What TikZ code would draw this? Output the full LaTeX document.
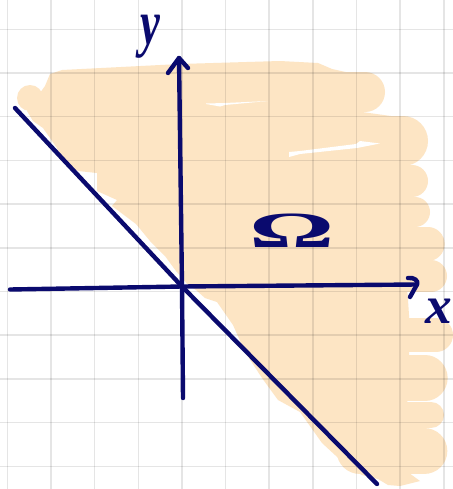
\documentclass[tikz,border=0pt]{standalone}
\usepackage{fontspec}
\newfontfamily\handfont{Liberation Serif}
\definecolor{navy}{HTML}{0A0A6E}
\definecolor{peach}{HTML}{FDE5C4}
\tikzset{
  gridline/.style={black, opacity=0.1, line width=1.1pt},
  axisline/.style={navy, line width=3.3pt, line cap=round, line join=round},
  lobe/.style={peach, line cap=round},
  streak/.style={fill=white},
  handlabel/.style={text=navy, inner sep=0pt}
}
\begin{document}
\begin{tikzpicture}[x=0.75pt,y=-0.75pt]
\useasboundingbox (0,0) rectangle (453,489);
\fill[white] (0,0) rectangle (453,489);
% shaded region (marker strokes)
\fill[peach] (45,86) -- (50,74) -- (62,70) -- (180,64) -- (280,61) -- (318,63) -- (332,69) -- (350,73) -- (362,74) -- (362,112) -- (398,117) -- (400,200) -- (408,300) -- (410,330) -- (405,470) -- (420,481) -- (400,486) -- (388,485) -- (378,479) -- (362,475) -- (348,467) -- (322,443) -- (300,412) -- (278,400) -- (262,378) -- (245,352) -- (233,325) -- (217,302) -- (205,298) -- (196,290) -- (188,285) -- (183,279) -- (176,271) -- (165,256) -- (150,241) -- (136,224) -- (112,206) -- (117,200) -- (97,191) -- (97,173) -- (78,171) -- (61,161) -- (57,148) -- (43,128) -- (33,121) -- (27,111) -- cycle;
\fill[peach] (30,98) circle[radius=13];
\draw[lobe, line width=30pt] (300,92) -- (365,92);
\draw[lobe, line width=37.5pt] (360,141) -- (403,141);
\draw[lobe, line width=24pt] (360,181) -- (412,181);
\draw[lobe, line width=22.5pt] (360,212) -- (415,212);
\draw[lobe, line width=25pt] (360,244) -- (428,244);
\draw[lobe, line width=24pt] (360,276) -- (431,276);
\draw[lobe, line width=25.5pt] (360,335) -- (436,335);
\draw[lobe, line width=34pt] (360,378) -- (425,378);
\draw[lobe, line width=19.5pt] (360,415) -- (431,415);
\draw[lobe, line width=35pt] (360,451) -- (424,451);
% white gaps of the marker
\fill[streak] (206,104) -- (220,106.5) -- (225,105) -- (268,101) -- (225,103) -- (206,103.5) -- cycle;
\fill[streak] (289,152) -- (289,157) -- (300,154) -- (357,148) -- (380,143.5) -- (360,141) -- (356,144) -- (300,151) -- cycle;
% grid
\foreach \i in {0,...,10} {
  \draw[gridline] ({7.3+43.65*\i},0) -- ({7.3+43.65*\i},489);
  \draw[gridline] (0,{29.3+43.7*\i}) -- (453,{29.3+43.7*\i});
}
% coordinates
\coordinate (O) at (182,286.5);
\coordinate (xstart) at (10,289.5);
\coordinate (xtip) at (417,284.5);
\coordinate (xarrU) at (408,278);
\coordinate (xarrD) at (410,297);
\coordinate (ystart) at (183,398);
\coordinate (ytip) at (179,58);
\coordinate (yarrL) at (168,73);
\coordinate (yarrR) at (188,68);
\coordinate (dstart) at (15,108);
\coordinate (dend) at (377,484);
% axes and boundary line
\draw[axisline] (xstart) -- (O) -- (xtip);
\draw[axisline] (xarrU) .. controls (414,277) and (419,281) .. (xtip) -- (xarrD);
\draw[axisline] (ystart) -- (O) -- (ytip);
\draw[axisline] (yarrL) -- (ytip) -- (yarrR);
\draw[axisline] (dstart) -- (O) -- (dend);
% labels
\node[handlabel, xscale=0.7] (ylab) at (150,37) {\fontsize{48}{48}\selectfont\handfont\bfseries\itshape y};
\node[handlabel] (xlab) at (439,311) {\fontsize{40}{40}\selectfont\handfont\bfseries\itshape x};
\node[handlabel, xscale=2.1] (omega) at (292,231) {\fontsize{38}{38}\selectfont\handfont\bfseries Ω};
\end{tikzpicture}
\end{document}
